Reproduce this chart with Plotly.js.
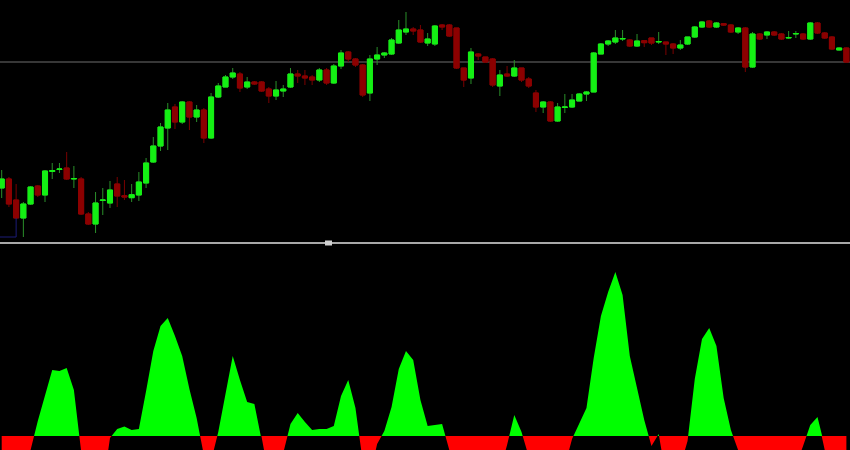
<!DOCTYPE html>
<html>
<head>
<meta charset="utf-8">
<script src="https://cdn.plot.ly/plotly-3.0.1.min.js"></script>
<style>
  html, body { margin: 0; padding: 0; background: #000; }
  #chart { width: 850px; height: 450px; }
</style>
</head>
<body>
<div id="chart"></div>
<script>
// Candle data (arbitrary price points), one per bar
const OPEN = [
  112,121,100,82,96,114,105,128.5,130.5,132,
  121,121,86,76,99.5,97,116,104.3,102.3,105,
  117,138,154,172,193,178,198,183,190,162,
  203,213,223,226,213,218,218,211,204,209,
  213,226,224,223,220,230,217,234,248,241,
  235,207,241,245,246,257,268,271,270,257,
  256,275,275,272,232,222,246,243,241,214,
  226,224,232,221,207,193,198,179,192.5,193,
  199,206,208,246,256,258,261,260,254,259.3,
  262,258,258,256,252,256,263,273,279,273,
  276.3,275,268,272,233,266,265,268,266,262,
  266,266,261,277,267,263,250,252
];
const HIGH = [
  130,123,116,98,114,115,130,137,137,148,
  134,123,88,108,112,119,123,120,116,128,
  142,163,177,197,196,199,199,195,192,207,
  217,225,232,228,223,219,219,213,219,215,
  232,230,230,225,232,232,236,250,249,242,
  236,245,253,248,262,280,288,273,275,267,
  275,276,276,272,232,252,247,243,242,230,
  234,240,232,223,210,199,199,197,206,206,
  207,209,248,257,260,270,270,261,266,260,
  262,268,258,257,260,263,274,279,280,278,
  277,276,273,273,268,267,269,269,267,269,
  269,267,278,278,268,264,252.5,252.5
];
const LOW = [
  102,93,81,63,95,103,98,121,127,120,
  112,85,75,67,85,92,93,100,98,99,
  112,137,149,150,171,176,170,178,157,161,
  202,213,221,208,211,215,208,197,200,203,
  212,217,215,215,218,215,216,231,238,233,
  203,199,235,242,245,256,265,265,257,254,
  254,270,263,231,213,216,240,237,213,204,
  223,223,218,212,188,187,178,178,187,192,
  199,199,208,246,254,256,259,253,253,253,
  255,256,245,246,250,255,262,272,272,272,
  274,267,266,228,232,260,261,264,260,261,
  262,260,260,266,261,250,249.5,237.5
];
const CLOSE = [
  121,96,82,96,113,105,129,129.5,131,121,
  121.5,86,76,97,100,110,104,103,105.3,118,
  137,154,173,190,178,198,183,190,162,203,
  214,223,227,212,218,216,209,204,210,211,
  226,224,222,220,230,217,234,247,241,235,
  205,241,245,247,260,270,271,269,258,261,
  274,273,264,232,220,248,244,238,215,225,
  224,232,220,214,193,198,179,193,193,200,
  206,208,247,256,259,262,261.5,254,259,257.3,
  257,258.5,256,252,255,263,273,278,273,277,
  275,268,272,233,266,261,268,265,261,262.5,
  266.5,261,277,267,262,251,252,238
];
// Oscillator values, one per bar
const OSC = [
  -45,-50,-55,-40,-14,15,40,66,65,68,
  46,-15,-40,-50,-52,-2,7,9.5,6,7,
  45,85,110,118,100,80,47,18,-19,-25,
  4,42,80,56,34,32,-1,-40,-40,-17,
  12,23,14,6,7,7,10,40,56,28,
  -25,-40,-8,5,29,67,85,76,36,10,
  11,12,-14,-40,-55,-60,-50,-45,-40,-35,
  -9,21,4,-20,-45,-55,-50,-40,-30,-3,
  13,28,78,120,144,164,141,80,48,16,
  -10,2,-40,-45,-30,-5,57,97,108,90,
  38,6,-14,-45,-60,-55,-50,-45,-40,-35,
  -30,-10,11,19,-14,-40,-40,-35
];
const LEVEL = 238;          // horizontal price line
const BOX_BOTTOM = 63, BOX_TOP = 82, BOX_RIGHT_BAR = 2;

const X = OPEN.map((_, i) => i);
const BODY_HI = OPEN.map((o, i) => Math.max(o, CLOSE[i]));
const BODY_LO = OPEN.map((o, i) => Math.min(o, CLOSE[i]));

const UP = '#14f014', DN = '#8c0000';
const UP_WICK = '#2a8f2a', DN_WICK = '#7a0000';

const traces = [
  { type: 'candlestick', x: X, open: OPEN, high: HIGH, low: LOW, close: CLOSE,
    xaxis: 'x', yaxis: 'y', whiskerwidth: 0,
    increasing: { line: { color: UP_WICK, width: 1 }, fillcolor: UP_WICK },
    decreasing: { line: { color: DN_WICK, width: 1 }, fillcolor: DN_WICK },
    hoverinfo: 'skip', showlegend: false },
  { type: 'candlestick', x: X, open: OPEN, high: BODY_HI, low: BODY_LO, close: CLOSE,
    xaxis: 'x', yaxis: 'y', whiskerwidth: 0,
    increasing: { line: { color: UP, width: 1 }, fillcolor: UP },
    decreasing: { line: { color: DN, width: 1 }, fillcolor: DN },
    hoverinfo: 'skip', showlegend: false },
  { type: 'scatter', mode: 'lines', x: X, y: OSC, xaxis: 'x', yaxis: 'y2',
    fill: 'tozeroy', fillcolor: '#00ff00', line: { width: 0, color: '#00ff00' },
    hoverinfo: 'skip', showlegend: false },
  { type: 'scatter', mode: 'lines', x: X, y: OSC, xaxis: 'x', yaxis: 'y3',
    fill: 'tozeroy', fillcolor: '#ff0000', line: { width: 0, color: '#ff0000' },
    hoverinfo: 'skip', showlegend: false }
];

const H = 450;
const layout = {
  width: 850, height: 450,
  margin: { l: 0, r: 0, t: 0, b: 0, pad: 0 },
  paper_bgcolor: '#000000', plot_bgcolor: '#000000',
  showlegend: false,
  boxgap: 0.3, boxgroupgap: 0,
  xaxis: { range: [-0.235, 117.5], visible: false, showgrid: false, zeroline: false,
           rangeslider: { visible: false }, fixedrange: true },
  yaxis: { domain: [1 - 242 / H, 1], range: [58, 300], visible: false,
           showgrid: false, zeroline: false, fixedrange: true },
  yaxis2: { domain: [14 / H, 205 / H], range: [0, 191], visible: false,
            showgrid: false, zeroline: false, fixedrange: true },
  yaxis3: { domain: [0, 14 / H], range: [-14, 0], visible: false,
            showgrid: false, zeroline: false, fixedrange: true },
  shapes: [
    { type: 'line', xref: 'paper', yref: 'y', x0: 0, x1: 1, y0: LEVEL, y1: LEVEL,
      line: { color: '#6e6e6e', width: 1 }, layer: 'below' },
    { type: 'line', xref: 'paper', yref: 'paper', x0: 0, x1: 1,
      y0: 1 - 243 / H, y1: 1 - 243 / H, line: { color: '#a8a8a8', width: 2 } },
    { type: 'rect', xref: 'paper', yref: 'paper', x0: 325 / 850, x1: 332 / 850,
      y0: 1 - 245.5 / H, y1: 1 - 240.5 / H, line: { width: 0 }, fillcolor: '#d0d0d0' },
    { type: 'line', xref: 'x', yref: 'y', x0: BOX_RIGHT_BAR, x1: BOX_RIGHT_BAR,
      y0: BOX_BOTTOM, y1: BOX_TOP, line: { color: '#1c1c78', width: 1 } },
    { type: 'line', xref: 'x', yref: 'y', x0: -1, x1: BOX_RIGHT_BAR,
      y0: BOX_BOTTOM, y1: BOX_BOTTOM, line: { color: '#1c1c78', width: 1 } }
  ]
};

Plotly.newPlot('chart', traces, layout, { staticPlot: true, displayModeBar: false });
</script>
</body>
</html>
